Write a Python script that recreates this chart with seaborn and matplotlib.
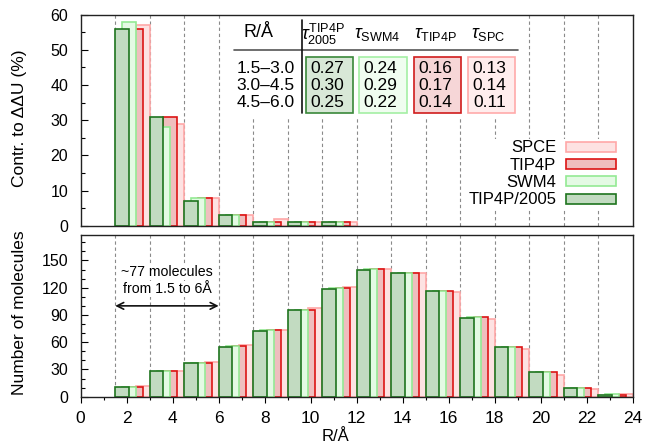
import numpy as np
import matplotlib
matplotlib.use("Agg")
import matplotlib.pyplot as plt
from matplotlib.patches import Patch, Rectangle
import seaborn as sns

# ---------------- data ----------------
bin_width = 1.5
bin_starts = [1.5, 3.0, 4.5, 6.0, 7.5, 9.0, 10.5, 12.0, 13.5, 15.0, 16.5, 18.0, 19.5, 21.0, 22.5]
series = ["SPCE", "TIP4P", "SWM4", "TIP4P/2005"]          # back to front

# contribution to ddU (%) for the first 7 bins
contr_tip4p2005 = [56, 31, 7, 3, 1, 1, 1]
contr_swm4      = [58, 28, 8, 3, 1, 1, 1]
contr_tip4p     = [56, 31, 8, 3, 1, 1, 1]
contr_spce      = [57, 29, 8, 3, 2, 1, 1]

# number of molecules per bin
num_tip4p2005 = [11, 28, 37, 55, 72, 95, 119, 140, 136, 116, 87, 55, 27, 10, 2]
num_swm4      = [11, 28, 37, 56, 73, 96, 120, 141, 136, 116, 88, 55, 27, 10, 3]
num_tip4p     = [11, 28, 37, 56, 73, 96, 120, 141, 136, 116, 88, 55, 27, 10, 2]
num_spce      = [12, 28, 38, 57, 73, 98, 121, 141, 136, 115, 86, 52, 24, 9, 3]

# tau table
table_ranges = ["1.5\u20133.0", "3.0\u20134.5", "4.5\u20136.0"]
tau_tip4p2005 = ["0.27", "0.30", "0.25"]
tau_swm4      = ["0.24", "0.29", "0.22"]
tau_tip4p     = ["0.16", "0.17", "0.14"]
tau_spc       = ["0.13", "0.14", "0.11"]
tau_headers = [r"$\tau^{\mathrm{TIP4P}}_{\mathrm{2005}}$", r"$\tau_{\mathrm{SWM4}}$",
               r"$\tau_{\mathrm{TIP4P}}$", r"$\tau_{\mathrm{SPC}}$"]

# ---------------- style ----------------
sns.set_style("white")
plt.rcParams["font.family"] = ["Liberation Sans", "DejaVu Sans"]
plt.rcParams["mathtext.fontset"] = "custom"
plt.rcParams["mathtext.rm"] = "Liberation Sans"
plt.rcParams["mathtext.it"] = "Liberation Sans:italic"
plt.rcParams["mathtext.bf"] = "Liberation Sans:bold"
for k in ("text.color", "axes.labelcolor", "xtick.color", "ytick.color"):
    plt.rcParams[k] = "black"

face = {"TIP4P/2005": "#c2dbc1", "SWM4": "#e4fae4", "TIP4P": "#efbebe", "SPCE": "#fde2e2"}
edge = {"TIP4P/2005": "#1e741e", "SWM4": "#94ea94", "TIP4P": "#dc1414", "SPCE": "#ffa8a8"}
offset = {"TIP4P/2005": 0.0, "SWM4": 0.3, "TIP4P": 0.6, "SPCE": 0.9}
bar_w = 0.6

contr = {"TIP4P/2005": contr_tip4p2005, "SWM4": contr_swm4, "TIP4P": contr_tip4p, "SPCE": contr_spce}
nums = {"TIP4P/2005": num_tip4p2005, "SWM4": num_swm4, "TIP4P": num_tip4p, "SPCE": num_spce}

fig = plt.figure(figsize=(6.47, 4.45), dpi=100)
ax1 = fig.add_axes([0.1247, 0.4928, 0.8532, 0.4742])
ax2 = fig.add_axes([0.1247, 0.1085, 0.8532, 0.3634])

bin_edges = bin_starts

def draw_bars(ax, data):
    for s in series:
        vals = data[s]
        xs = [b + offset[s] + bar_w / 2 for b in bin_starts[:len(vals)]]
        sns.barplot(x=xs, y=vals, native_scale=True, width=bar_w / bin_width,
                    color=face[s], edgecolor=edge[s], linewidth=1.2,
                    saturation=1, errorbar=None, ax=ax, zorder=2)

for ax in (ax1, ax2):
    for e in bin_edges:
        ax.axvline(e, color="#8a8a8a", lw=0.8, ls=(0, (3, 2.5)), zorder=0.5)

draw_bars(ax1, contr)
draw_bars(ax2, nums)

# ---------------- axes formatting ----------------
for ax in (ax1, ax2):
    ax.set_xlim(0, 24)
    for sp in ax.spines.values():
        sp.set_color("#222222")
        sp.set_linewidth(1.0)
        sp.set_zorder(5)

ax1.set_ylim(0, 60)
ax1.set_yticks(np.arange(0, 61, 10))
ax1.set_yticks(np.arange(0, 61, 5), minor=True)
ax1.set_xticks([])
ax1.tick_params(axis="y", which="major", direction="in", length=5, width=0.8,
                labelsize=11.5, pad=9, left=True, right=False)
ax1.tick_params(axis="y", which="minor", direction="in", length=3, width=0.8, left=True, right=False)
ax1.set_xlabel("")
ax1.set_ylabel("Contr. to \u0394\u0394U (%)", fontsize=12.5)
ax1.yaxis.set_label_coords(-0.098, 0.51)

ax2.set_ylim(0, 178)
ax2.set_yticks(np.arange(0, 151, 30))
ax2.set_yticks(np.arange(0, 171, 10), minor=True)
ax2.set_xticks(np.arange(0, 25, 2))
ax2.set_xticks(np.arange(0, 25, 1), minor=True)
ax2.set_xticklabels([str(v) for v in range(0, 25, 2)])
ax2.tick_params(axis="y", which="major", direction="in", length=5, width=0.8,
                labelsize=11.5, pad=9, left=True, right=False)
ax2.tick_params(axis="y", which="minor", direction="in", length=3, width=0.8, left=True, right=False)
ax2.tick_params(axis="x", which="major", direction="out", length=4.5, width=0.8,
                labelsize=12.5, pad=6, bottom=True)
ax2.tick_params(axis="x", which="minor", direction="out", length=2.5, width=0.8, bottom=True)
ax2.set_ylabel("Number of molecules", fontsize=12.5)
ax2.yaxis.set_label_coords(-0.098, 0.52)
ax2.set_xlabel("R/\u00c5", fontsize=12)
ax2.xaxis.set_label_coords(0.461, -0.20)

# ---------------- annotation in bottom panel ----------------
ax2.annotate("", xy=(bin_starts[0], 100), xytext=(6.0, 100),
             arrowprops=dict(arrowstyle="<->", lw=1.2, color="#111111",
                             shrinkA=0, shrinkB=0, mutation_scale=12), zorder=4)
bb = dict(facecolor="white", edgecolor="none", pad=0.5)
ax2.text(3.75, 137, "~77 molecules", ha="center", va="center", fontsize=10.2, bbox=bb, zorder=4)
ax2.text(3.75, 118.5, "from 1.5 to 6\u00c5", ha="center", va="center", fontsize=10.2, bbox=bb, zorder=4)

# ---------------- table in top panel ----------------
ax1.add_patch(Rectangle((6.67, 30.5), 19.0 - 6.67, 29.4, facecolor="white",
                        edgecolor="none", zorder=0.8))
ax1.plot([6.67, 19.0], [50.0, 50.0], color="#555555", lw=1.2, zorder=3)
ax1.plot([9.61, 9.61], [58.5, 32.0], color="#111111", lw=1.2, zorder=3)
ax1.text(7.71, 55.0, "R/\u00c5", ha="center", va="center", fontsize=13, zorder=3)
row_y = [44.75, 40.0, 35.0]
for r, y in zip(table_ranges, row_y):
    ax1.text(9.30, y, r, ha="right", va="center", fontsize=12.5, zorder=3)

box_x = [(9.78, 11.83), (12.11, 14.17), (14.49, 16.52), (16.85, 18.88)]
box_face = ["#d8e8d7", "#f0fdf0", "#f6d6d7", "#ffeded"]
box_edge = ["#3a883a", "#a4efa4", "#d01c1c", "#ffaaaa"]
tau_cols = [tau_tip4p2005, tau_swm4, tau_tip4p, tau_spc]
head_x = [10.53, 12.9, 15.45, 17.7]
for (x0, x1), fc, ec, col, hdr, hx in zip(box_x, box_face, box_edge, tau_cols, tau_headers, head_x):
    ax1.add_patch(Rectangle((x0, 32.0), x1 - x0, 16.05, facecolor=fc, edgecolor=ec,
                            lw=1.2, zorder=3))
    for v, y in zip(col, row_y):
        ax1.text((x0 + x1) / 2 - 0.1, y, v, ha="center", va="center", fontsize=12.5, zorder=4)
    ax1.text(hx, 54.4, hdr, ha="center", va="center", fontsize=13, zorder=3)

# ---------------- legend ----------------
handles = [Patch(facecolor=face[s], edgecolor=edge[s], lw=1.2, label=s) for s in series]
leg = ax1.legend(handles=handles, loc="upper right", bbox_to_anchor=(0.973, 0.412),
                 markerfirst=False, frameon=True, fancybox=False, framealpha=1,
                 facecolor="white", edgecolor="none", fontsize=12, handlelength=3.0,
                 handleheight=0.55, handletextpad=0.6, labelspacing=0.14,
                 borderpad=0.1, borderaxespad=0)
leg.set_zorder(6)

fig.savefig("out.png", dpi=100)
